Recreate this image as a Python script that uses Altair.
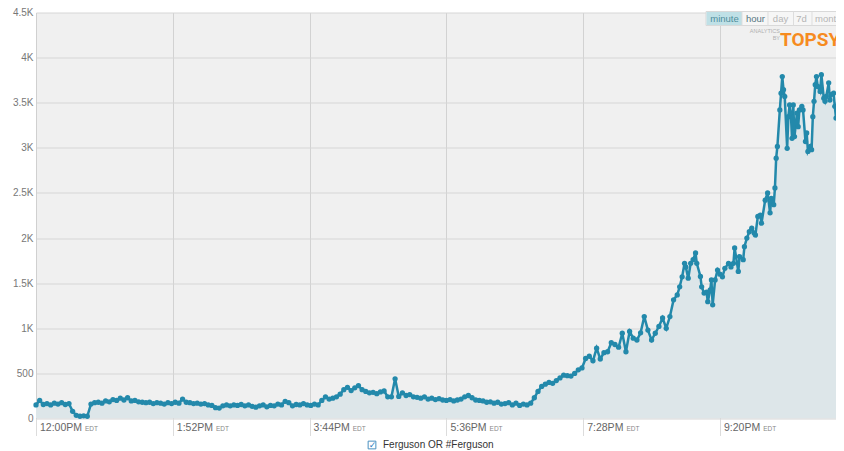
import altair as alt
import pandas as pd

# ---------------- data ----------------
# tweets per minute, sampled every 3 minutes from 12:00PM (minute 0)
COARSE_STEP_MIN = 3
COARSE_VALUES = [
    150, 200, 155, 165, 150, 170, 160, 175, 155, 165,
    80, 35, 25, 30, 25, 160, 175, 180, 170, 195,
    185, 210, 200, 225, 205, 230, 195, 200, 185, 180,
    175, 180, 165, 175, 170, 160, 175, 165, 180, 170,
    215, 180, 175, 165, 170, 160, 165, 150, 145, 120,
    115, 140, 150, 140, 150, 145, 155, 140, 150, 135,
    125, 140, 150, 130, 145, 140, 160, 150, 190, 175,
    140, 155, 150, 165, 150, 145, 160, 150, 200, 240,
    215, 225, 240, 270, 320, 345, 310, 340, 365, 320,
    300, 285, 290, 275, 295, 305, 240, 240, 440, 245,
    285, 255, 265, 240, 235, 225, 240, 215, 225, 210,
    220, 205, 200, 210, 195, 205, 215, 240, 255, 230,
    205, 200, 195, 180, 185, 170, 180, 160, 165, 175,
    150, 170, 145, 160, 150, 170, 230, 300, 355, 380,
    400, 390, 420, 450, 480, 475, 470, 500, 540, 560,
    665, 690, 640, 780, 660, 730, 740, 840, 820, 790,
    945, 740, 965, 890, 870, 950, 1130, 980, 870, 945,
    1020, 1115, 1000, 1130, 1315, 1370,
]
# later, denser readings (minutes after 12:00PM)
FINE_MINUTES = [
    527, 529, 531, 532, 534, 536, 538, 540, 541, 544,
    545, 547, 549, 550, 552, 553, 554, 556, 558, 560,
    562, 564, 567, 569, 571, 572, 575, 576, 579, 580,
    582, 584, 586, 588, 589, 591, 593, 594, 597, 599,
    601, 602, 604, 605, 606, 607, 609, 610, 611, 612,
    613, 615, 616, 617, 618, 619, 620, 621, 623, 624,
    625, 627, 628, 630, 631, 632, 634, 635, 636, 637,
    638, 639, 640, 642, 643, 645, 646, 647, 649, 650,
    651, 653, 654, 655, 657, 658, 660, 661,
]
FINE_VALUES = [
    1460, 1570, 1720, 1680, 1555, 1720, 1760, 1835, 1720, 1575,
    1460, 1390, 1400, 1295, 1425, 1535, 1260, 1535, 1645, 1600,
    1570, 1665, 1720, 1680, 1720, 1890, 1630, 1795, 1760, 1905,
    2000, 2070, 2110, 2055, 2035, 2240, 2255, 2165, 2420, 2500,
    2280, 2440, 2370, 2555, 2885, 3015, 3420, 3605, 3790, 3645,
    3570, 2995, 3345, 3475, 3385, 3105, 3475, 3125, 3385, 3235,
    3420, 3460, 3420, 3070, 3165, 2960, 3015, 2980, 3345, 3515,
    3700, 3790, 3680, 3625, 3810, 3550, 3515, 3570, 3720, 3530,
    3590, 3605, 3460, 3330, 3495, 3345, 3255, 3110,
]
TICK_MINUTES = [0, 112, 224, 336, 448, 560]
TICK_LABELS = ["12:00PM", "1:52PM", "3:44PM", "5:36PM", "7:28PM", "9:20PM"]
TZ_LABEL = "EDT"
Y_TICKS = [0, 500, 1000, 1500, 2000, 2500, 3000, 3500, 4000, 4500]
SERIES_NAME = "Ferguson OR #Ferguson"
BUTTONS = ["minute", "hour", "day", "7d", "month"]

# ---------------- build tables ----------------
assert len(FINE_MINUTES) == len(FINE_VALUES)
minutes = [i * COARSE_STEP_MIN for i in range(len(COARSE_VALUES))] + FINE_MINUTES
df = pd.DataFrame({"m": minutes, "v": COARSE_VALUES + FINE_VALUES})

PX_PER_MIN = 1.2214
W, H = 800, 406
XMAX = W / PX_PER_MIN
FONT = "Liberation Sans"

LINE_COLOR = "#2389ab"

xscale = alt.Scale(domain=[0, XMAX], nice=False, zero=False)
yscale = alt.Scale(domain=[0, 4500], nice=False)

x_main = alt.X(
    "m:Q", scale=xscale, title=None,
    axis=alt.Axis(values=TICK_MINUTES, labels=False, ticks=True, tickSize=17,
                  tickColor="#dcdcdc", tickWidth=1, grid=True, gridColor="#d2d2d2",
                  gridWidth=1, domain=False, title=None),
)
y_main = alt.Y(
    "v:Q", scale=yscale, title=None,
    axis=alt.Axis(values=Y_TICKS, ticks=False, grid=True, gridColor="#d6d6d6",
                  domain=True, domainColor="#d0d0d0", labelPadding=3,
                  labelFontSize=10, labelColor="#777777", labelFont=FONT,
                  labelExpr="datum.value == 0 ? '0' : (datum.value < 1000 ? datum.value + '' : (datum.value / 1000) + 'K')",
                  title=None),
)

base = alt.Chart(df)
area = base.mark_area(color="#dde6e9", opacity=1, clip=True).encode(x=x_main, y=y_main)
line = base.mark_line(color=LINE_COLOR, strokeWidth=2.5).encode(x="m:Q", y="v:Q")
pts = base.mark_circle(color=LINE_COLOR, size=28, opacity=1).encode(x="m:Q", y="v:Q")

# x tick labels ("12:00PM" + small "EDT")
def text_width(s):
    digits = sum(c.isdigit() for c in s)
    return digits * 5.84 + 2.92 + 15.75

tick_df = pd.DataFrame({"m": TICK_MINUTES, "t": TICK_LABELS})
edt_df = pd.DataFrame({
    "m": [m + (4 + text_width(t) + 3) / PX_PER_MIN for m, t in zip(TICK_MINUTES, TICK_LABELS)],
    "t": [TZ_LABEL] * len(TICK_MINUTES),
})
tick_text = alt.Chart(tick_df).mark_text(
    align="left", baseline="alphabetic", dx=4, fontSize=10.5, font=FONT, color="#666666"
).encode(x="m:Q", y=alt.value(H + 12.5), text="t:N")
edt_text = alt.Chart(edt_df).mark_text(
    align="left", baseline="alphabetic", fontSize=6.5, font=FONT, color="#888888"
).encode(x="m:Q", y=alt.value(H + 12.5), text="t:N")


def one(text=""):
    return alt.Chart(pd.DataFrame({"t": [text]}))


# top-right control buttons (shifted to sit inside the visible frame)
S = -8
bar_bg = one().mark_rect(fill="#f6f6f6", stroke="#d9d9d9", strokeWidth=1).encode(
    x=alt.value(678 + S), x2=alt.value(810), y=alt.value(-1), y2=alt.value(13))
sel_bg = one().mark_rect(fill="#bfe0e6").encode(
    x=alt.value(678.5 + S), x2=alt.value(714 + S), y=alt.value(-0.5), y2=alt.value(12.5))
seps = alt.Chart(pd.DataFrame({"sx": [714 + S, 740 + S, 765.5 + S, 784 + S]})).mark_rule(
    color="#dddddd", strokeWidth=1).encode(
    x=alt.X("sx:Q", scale=None), y=alt.value(-1), y2=alt.value(13))
btn_layers = []
btn_pos = [696.5, 727.5, 752.5, 773.5, 787]
btn_col = ["#4f8e9c", "#557580", "#b5b5b5", "#b5b5b5", "#b5b5b5"]
btn_align = ["center", "center", "center", "center", "left"]
for b, px, c, al in zip(BUTTONS, btn_pos, btn_col, btn_align):
    btn_layers.append(
        one(b).mark_text(align=al, baseline="middle", fontSize=9.5, font=FONT, color=c)
        .encode(x=alt.value(px + S), y=alt.value(6.5), text="t:N"))

analytics = one("ANALYTICS").mark_text(align="right", baseline="middle", fontSize=5.5,
                                       font=FONT, color="#b0b0b0").encode(
    x=alt.value(744), y=alt.value(18.5), text="t:N")
by = one("BY").mark_text(align="right", baseline="middle", fontSize=5.5,
                         font=FONT, color="#b0b0b0").encode(
    x=alt.value(744), y=alt.value(25), text="t:N")
topsy = one("TOPSY").mark_text(align="left", baseline="alphabetic", fontSize=19,
                               fontWeight="bold", font="Roboto",
                               color="#f68b1f").encode(
    x=alt.value(744), y=alt.value(33), text="t:N")

# legend
chk_box = one().mark_point(shape="square", size=60, filled=True, fill="white",
                           stroke="#4a90c0", strokeWidth=1, opacity=1).encode(
    x=alt.value(336), y=alt.value(432.5))
chk_mark = one("\u2713").mark_text(align="center", baseline="middle", fontSize=9,
                                  font="DejaVu Sans", color="#2f7fc0").encode(
    x=alt.value(336.5), y=alt.value(432.5), text="t:N")
legend_text = one(SERIES_NAME).mark_text(align="left", baseline="middle", fontSize=10,
                                         font=FONT, color="#333333").encode(
    x=alt.value(347), y=alt.value(432.5), text="t:N")

chart = alt.layer(
    area, line, pts, tick_text, edt_text,
    bar_bg, sel_bg, seps, *btn_layers, analytics, by, topsy,
    chk_box, chk_mark, legend_text,
).properties(
    width=W, height=H,
    autosize=alt.AutoSizeParams(type="none"),
    padding={"left": 28, "top": 4.5, "right": 0, "bottom": 32},
    background="white",
).configure_view(fill="#f0f0f0", stroke="transparent")

chart.save("out.html", embed_options={"renderer": "svg", "actions": False})
